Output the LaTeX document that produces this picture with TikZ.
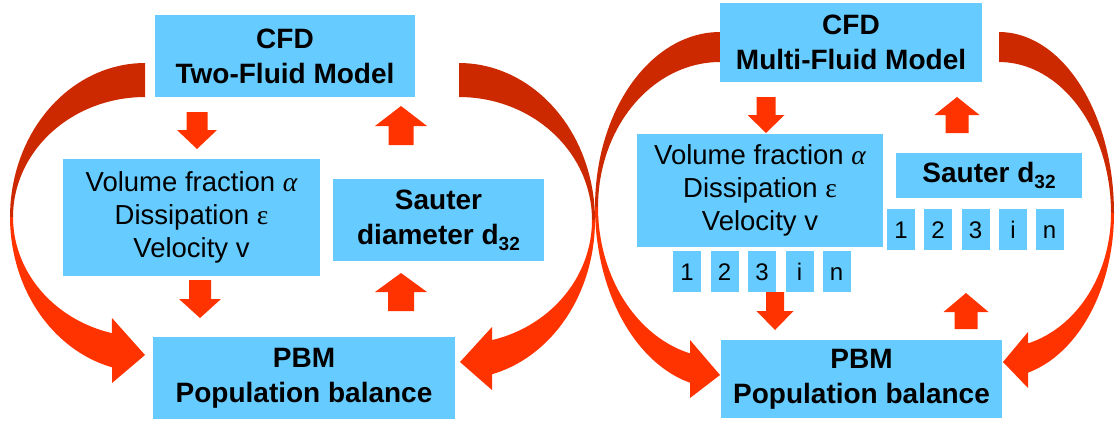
\documentclass[tikz,border=0pt]{standalone}
\usepackage{fontspec}
\setmainfont{Liberation Sans}
\newfontfamily\grk{Liberation Serif}
\definecolor{boxblue}{HTML}{66CCFF}
\definecolor{arrdark}{HTML}{CC2900}
\definecolor{arrbright}{HTML}{FF3300}
\newcommand\subtt[1]{\raisebox{-0.22em}{\fontsize{19}{19}\selectfont #1}}
\newcommand\barw[6]{\fill[brfill] ({#1-#5},#2) -- ({#1-#5},#3) -- ({#1-#6},#3) -- (#1,#4) -- ({#1+#6},#3) -- ({#1+#5},#3) -- ({#1+#5},#2) -- cycle;}
\tikzset{
  box/.style={fill=boxblue, inner sep=0pt, align=center, text=black},
  boldtxt/.style={font=\fontsize{28}{35}\selectfont\bfseries},
  regtxt/.style={font=\fontsize{27.5}{33}\selectfont},
  numbox/.style={fill=boxblue, inner sep=0pt, text=black, font=\fontsize{24}{24}\selectfont,
    text height=17.2pt, text depth=0pt, minimum width=28pt, minimum height=41pt},
  dkfill/.style={fill=arrdark},
  brfill/.style={fill=arrbright},
}
\begin{document}
\begin{tikzpicture}[x=1pt,y=-1pt]
\useasboundingbox (0,0) rectangle (1115,421);

% ---------- big curved arrows, left panel ----------
\fill[dkfill] plot[domain=270:180,samples=40,variable=\t] ({145+135*cos(\t)},{217+154*sin(\t)})
  -- plot[domain=180:270,samples=40,variable=\t] ({145+132*cos(\t)},{217+120*sin(\t)}) -- cycle;
\fill[brfill] plot[domain=180:104.1,samples=40,variable=\t] ({145+135*cos(\t)},{217+155*sin(\t)})
  -- (112,383) -- (145,355) -- (112,318)
  -- plot[domain=104.5:180,samples=40,variable=\t] ({145+132*cos(\t)},{217+120*sin(\t)}) -- cycle;
\fill[dkfill] plot[domain=-90:0,samples=40,variable=\t] ({459+136*cos(\t)},{220+157*sin(\t)})
  -- plot[domain=0:-90,samples=40,variable=\t] ({459+133*cos(\t)},{220+123*sin(\t)}) -- cycle;
\fill[brfill] plot[domain=0:75.96,samples=40,variable=\t] ({459+136*cos(\t)},{220+159*sin(\t)})
  -- (492,390) -- (460,362) -- (492,327)
  -- plot[domain=75.63:0,samples=40,variable=\t] ({459+133*cos(\t)},{220+124*sin(\t)}) -- cycle;

% ---------- big curved arrows, right panel ----------
\fill[dkfill] plot[domain=270:180,samples=40,variable=\t] ({720+125*cos(\t)},{207+175*sin(\t)})
  -- plot[domain=180:270,samples=40,variable=\t] ({720+122*cos(\t)},{207+145*sin(\t)}) -- cycle;
\fill[brfill] plot[domain=180:103.89,samples=40,variable=\t] ({720+125*cos(\t)},{207+181*sin(\t)})
  -- (690,398) -- (720,375) -- (690,340)
  -- plot[domain=104.23:180,samples=40,variable=\t] ({720+122*cos(\t)},{207+151*sin(\t)}) -- cycle;
\fill[dkfill] plot[domain=-90:0,samples=40,variable=\t] ({999+115*cos(\t)},{213+181*sin(\t)})
  -- plot[domain=0:-90,samples=40,variable=\t] ({999+112*cos(\t)},{213+151*sin(\t)}) -- cycle;
\fill[brfill] plot[domain=0:75.39,samples=40,variable=\t] ({999+115*cos(\t)},{213+165*sin(\t)})
  -- (1028,388) -- (1003,362) -- (1028,332)
  -- plot[domain=74.99:0,samples=40,variable=\t] ({999+112*cos(\t)},{213+135*sin(\t)}) -- cycle;

% ---------- boxes, left panel ----------
\node[box, boldtxt, minimum width=260pt, minimum height=82pt] (cfdA) at (285,56) {CFD\\Two-Fluid Model};
\node[box, regtxt, minimum width=257pt, minimum height=117pt] (volA) at (191.5,217.5)
  {Volume fraction {\grk\itshape α}\\Dissipation {\grk ε}\\Velocity v};
\node[box, boldtxt, minimum width=211pt, minimum height=82pt] (sauA) at (438.5,220) {Sauter\\diameter d\subtt{32}};
\node[box, boldtxt, minimum width=302pt, minimum height=82pt] (pbmA) at (304,378) {PBM\\Population balance};

% ---------- boxes, right panel ----------
\node[box, boldtxt, minimum width=262pt, minimum height=79pt] (cfdB) at (851,42.5) {CFD\\Multi-Fluid Model};
\node[box, regtxt, minimum width=246pt, minimum height=113pt] (volB) at (760,190.5)
  {Volume fraction {\grk\itshape α}\\Dissipation {\grk ε}\\Velocity v};
\node[box, boldtxt, minimum width=186pt, minimum height=45pt] (sauB) at (989,175.5) {Sauter d\subtt{32}};
\node[box, boldtxt, minimum width=281pt, minimum height=78pt] (pbmB) at (861.5,379) {PBM\\Population balance};

\node[numbox] (va1) at (687,271.5) {1};
\node[numbox] (va2) at (724.5,271.5) {2};
\node[numbox] (va3) at (762,271.5) {3};
\node[numbox] (vai) at (799.5,271.5) {i};
\node[numbox] (van) at (836.5,271.5) {n};

\node[numbox] (sa1) at (901,229.5) {1};
\node[numbox] (sa2) at (938,229.5) {2};
\node[numbox] (sa3) at (975.5,229.5) {3};
\node[numbox] (sai) at (1013,229.5) {i};
\node[numbox] (san) at (1049.5,229.5) {n};

% ---------- block arrows ----------
\barw{197}{112}{130}{149}{10.5}{20}
\barw{401}{145}{126}{106}{12.5}{26}
\barw{200}{280}{299}{318}{11}{21}
\barw{401}{311}{292}{273}{13}{26}
\barw{766}{97}{115}{133}{9.5}{18.5}
\barw{775}{292}{311}{330}{9}{18.5}
\barw{957}{133}{115}{97}{11.5}{22.5}
\barw{966}{329}{312}{293}{11.5}{22.5}
\end{tikzpicture}
\end{document}
